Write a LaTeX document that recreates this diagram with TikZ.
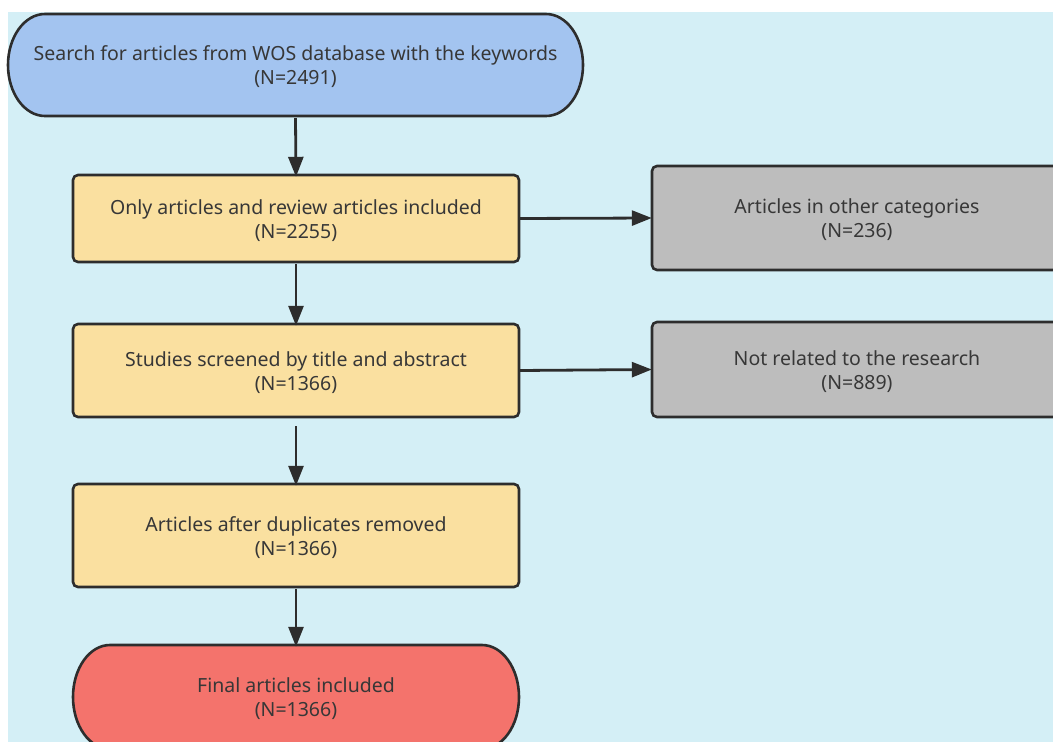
\documentclass[tikz,border=0pt]{standalone}
\usepackage{fontspec}
\setmainfont{Noto Sans}
\usetikzlibrary{arrows.meta}
\definecolor{bgc}{RGB}{212,239,246}
\definecolor{bluec}{RGB}{163,196,240}
\definecolor{yelc}{RGB}{250,224,160}
\definecolor{grayc}{RGB}{189,189,189}
\definecolor{redc}{RGB}{244,115,108}
\definecolor{linec}{RGB}{45,45,45}
\definecolor{txtc}{RGB}{55,55,55}
\tikzset{
  shapeline/.style={draw=linec, line width=2.6pt},
  label/.style={inner sep=0pt, text=txtc, align=center, yshift=-2pt, font=\fontsize{19.5}{24}\selectfont},
  conn/.style={draw=linec, line width=2.8pt, -{Triangle[length=20pt,width=15pt]}},
}
\begin{document}
\begin{tikzpicture}[x=1pt,y=-1pt]
\clip (0,0) rectangle (1053,742);
\fill[white] (0,0) rectangle (1053,742);
\fill[bgc] (8,12) rectangle (1060,750);
% start stadium
\path[shapeline, fill=bluec] (45,14) -- (546,14) arc[start angle=-90,end angle=90,x radius=37,y radius=51] -- (45,116) arc[start angle=90,end angle=270,x radius=37,y radius=51] -- cycle;
\node[label, minimum width=575pt, minimum height=102pt] (s) at (295.5,65) {Search for articles from WOS database with the keywords\\(N=2491)};
% yellow boxes
\path[shapeline, fill=yelc, rounded corners=5pt] (73,175) rectangle (519,262);
\node[label, minimum width=446pt, minimum height=87pt] (b1) at (296,218.5) {Only articles and review articles included\\(N=2255)};
\path[shapeline, fill=yelc, rounded corners=5pt] (73,324) rectangle (519,417);
\node[label, minimum width=446pt, minimum height=93pt] (b2) at (296,370.5) {Studies screened by title and abstract\\(N=1366)};
\path[shapeline, fill=yelc, rounded corners=5pt] (73,484) rectangle (519,587);
\node[label, minimum width=446pt, minimum height=103pt] (b3) at (296,535.5) {Articles after duplicates removed\\(N=1366)};
% gray boxes
\path[shapeline, fill=grayc, rounded corners=5pt] (652,166) rectangle (1062,270);
\node[label, minimum width=410pt, minimum height=104pt] (g1) at (857,218) {Articles in other categories\\(N=236)};
\path[shapeline, fill=grayc, rounded corners=5pt] (652,322) rectangle (1062,417);
\node[label, minimum width=410pt, minimum height=95pt] (g2) at (857,369.5) {Not related to the research\\(N=889)};
% final stadium
\path[shapeline, fill=redc] (110,645) -- (482,645) arc[start angle=-90,end angle=90,x radius=37,y radius=52] -- (110,749) arc[start angle=90,end angle=270,x radius=37,y radius=52] -- cycle;
\node[label, minimum width=446pt, minimum height=104pt] (f) at (296,697) {Final articles included\\(N=1366)};
% connectors
\draw[conn] (s.south) -- (b1.north);
\draw[conn] (b1.south) -- (b2.north);
\draw[conn, shorten <=7pt] (b2.south) -- (b3.north);
\draw[conn] (b3.south) -- (f.north);
\draw[conn] ([yshift=2pt]b1.east) -- ([yshift=2pt]g1.west);
\draw[conn] ([yshift=2pt]b2.east) -- ([yshift=2pt]g2.west);
\end{tikzpicture}
\end{document}
